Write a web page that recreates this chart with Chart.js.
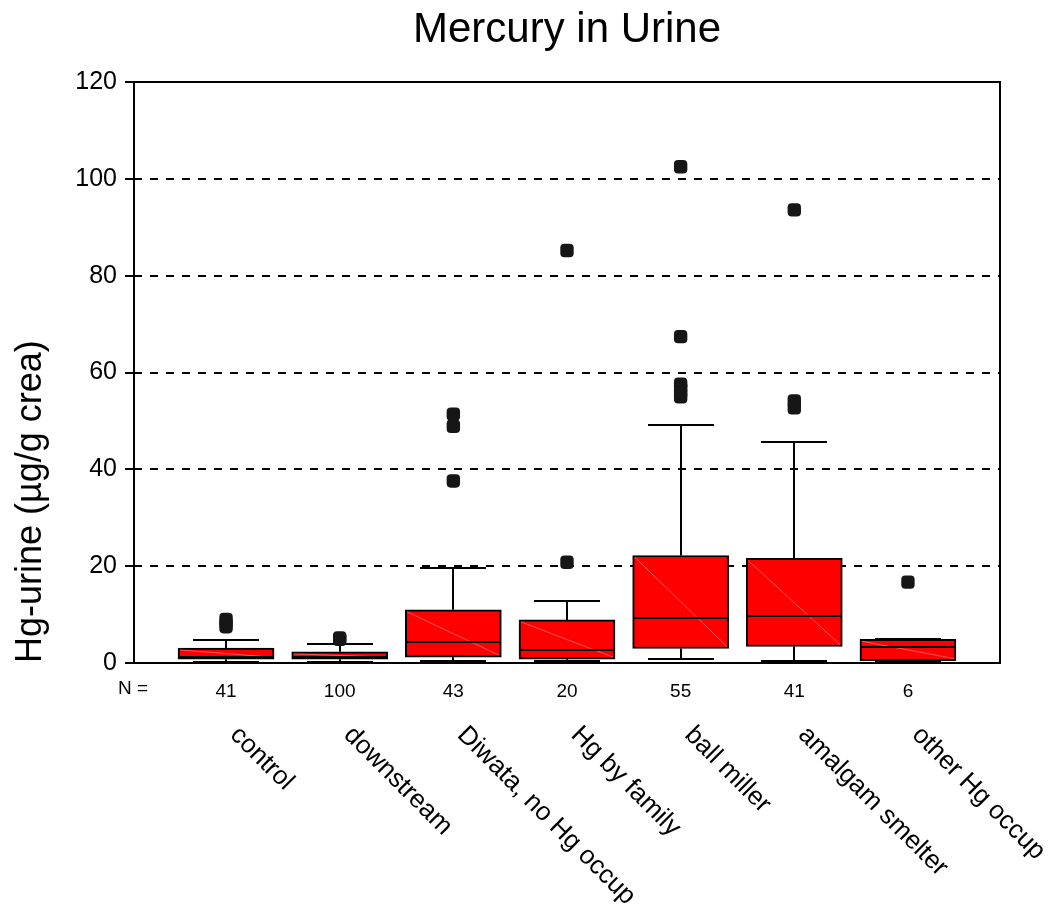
<!DOCTYPE html>
<html><head><meta charset="utf-8">
<script src="https://cdn.jsdelivr.net/npm/chart.js@4.4.0/dist/chart.umd.min.js"></script>
<style>html,body{margin:0;padding:0;background:#fff;}#wrap{width:1060px;height:919px;}</style>
</head><body><div id="wrap"><canvas id="c" width="1060" height="919"></canvas></div>
<script>
// ---- data ----
const chartTitle = 'Mercury in Urine';
const yTitle = 'Hg-urine (µg/g crea)';
const categories = ['control', 'downstream', 'Diwata, no Hg occup', 'Hg by family', 'ball miller', 'amalgam smelter', 'other Hg occup'];
const counts = [41, 100, 43, 20, 55, 41, 6];
const whiskerLow = [0.3, 0.3, 0.5, 0.4, 0.9, 0.5, 0.5];
const q1 = [0.8, 0.8, 1.2, 0.8, 3.0, 3.4, 0.5];
const median = [1.2, 1.2, 4.4, 2.7, 9.2, 9.7, 3.4];
const q3 = [3.1, 2.3, 11.0, 8.9, 22.2, 21.6, 4.9];
const whiskerHigh = [4.7, 3.9, 19.6, 12.8, 49.2, 45.7, 4.9];
const outliers = [
  [7.5, 8.2, 9.0],
  [4.9, 5.2],
  [51.4, 48.9, 37.6],
  [85.2, 20.8],
  [102.5, 67.4, 57.6, 56.8, 55.8, 55.0],
  [93.6, 54.1, 52.7],
  [16.7]
];
const yTicks = [0, 20, 40, 60, 80, 100, 120];

const FONT = "'Liberation Sans', Arial, Helvetica, sans-serif";

const boxData = categories.map((c, i) => ({x: i, y: [q1[i], q3[i]]}));
const outlierPoints = [];
outliers.forEach((arr, i) => arr.forEach(v => outlierPoints.push({x: i, y: v})));

function seg(ctx, x1, y1, x2, y2) { ctx.beginPath(); ctx.moveTo(x1, y1); ctx.lineTo(x2, y2); ctx.stroke(); }

const boxPlugin = {
  id: 'boxExtras',
  afterDatasetDraw(chart, args) {
    if (args.index !== 0) return;
    const {ctx, scales: {x, y}} = chart;
    const meta = chart.getDatasetMeta(0);
    ctx.save();
    meta.data.forEach((bar, i) => {
      const {width} = bar.getProps(['width'], true);
      const cx = Math.round(x.getPixelForValue(i));
      const half = width / 2;
      const capHalf = Math.round(half * 0.69);
      const yt = y.getPixelForValue(q3[i]), yb = y.getPixelForValue(q1[i]);
      // faint diagonal artefact in each box
      ctx.strokeStyle = 'rgba(255,170,170,0.5)'; ctx.lineWidth = 1;
      seg(ctx, cx - half + 2, yt + 2, cx + half - 2, yb - 2);
      ctx.strokeStyle = '#000'; ctx.lineWidth = 2; ctx.lineCap = 'butt';
      const ym = Math.round(y.getPixelForValue(median[i]));
      seg(ctx, cx - half, ym, cx + half, ym);
      const yh = Math.round(y.getPixelForValue(whiskerHigh[i]));
      const yl = Math.round(y.getPixelForValue(whiskerLow[i]));
      if (yh < yt) { seg(ctx, cx, yt, cx, yh); }
      seg(ctx, cx - capHalf, yh, cx + capHalf, yh);
      if (yl > yb) { seg(ctx, cx, yb, cx, yl); }
      seg(ctx, cx - capHalf, yl, cx + capHalf, yl);
    });
    ctx.restore();
  },
  afterDatasetsDraw(chart) {
    const {ctx, chartArea: a} = chart;
    ctx.save();
    ctx.strokeStyle = '#000'; ctx.lineWidth = 2;
    ctx.strokeRect(Math.round(a.left), Math.round(a.top), Math.round(a.right - a.left), Math.round(a.bottom - a.top));
    ctx.restore();
  },
  afterDraw(chart) {
    const {ctx, chartArea: a, scales: {x}} = chart;
    ctx.save();
    ctx.fillStyle = '#000';
    // title
    ctx.font = '42px ' + FONT;
    ctx.textAlign = 'center'; ctx.textBaseline = 'alphabetic';
    ctx.fillText(chartTitle, (a.left + a.right) / 2, 42);
    // N =
    ctx.font = '19px ' + FONT;
    ctx.textAlign = 'center'; ctx.textBaseline = 'middle';
    ctx.fillText('N =', 133, 689);
    // rotated category labels
    ctx.font = '26px ' + FONT;
    ctx.textAlign = 'left'; ctx.textBaseline = 'alphabetic';
    categories.forEach((c, i) => {
      const cx = x.getPixelForValue(i);
      ctx.save();
      ctx.translate(cx + 3, 736);
      ctx.rotate(Math.PI / 4);
      ctx.fillText(c, 0, 0);
      ctx.restore();
    });
    ctx.restore();
  }
};

new Chart(document.getElementById('c'), {
  type: 'bar',
  data: {
    datasets: [
      {type: 'bar', data: boxData, backgroundColor: '#ff0000', borderColor: '#000', borderWidth: 2,
       borderSkipped: false, barThickness: 96, order: 2},
      {type: 'scatter', data: outlierPoints, pointStyle: 'rectRounded', pointRadius: 7.8, pointHoverRadius: 7.8,
       backgroundColor: '#161616', borderColor: '#161616', borderWidth: 0, order: 1}
    ]
  },
  options: {
    responsive: false, animation: false, events: [],
    layout: {padding: {top: 82, right: 60, bottom: 0, left: 0}},
    plugins: {legend: {display: false}, tooltip: {enabled: false}, title: {display: false}},
    scales: {
      x: {
        type: 'linear', min: -0.81, max: 6.81, offset: false,
        grid: {display: false}, border: {display: false},
        afterBuildTicks: s => { s.ticks = categories.map((c, i) => ({value: i})); },
        ticks: {autoSkip: false, maxRotation: 0, minRotation: 0, padding: 9, color: '#000',
                font: {family: FONT, size: 19}, callback: v => (counts[v] !== undefined ? String(counts[v]) : '')},
        afterFit: s => { s.height = 256; }
      },
      y: {
        min: 0, max: 120,
        afterBuildTicks: s => { s.ticks = yTicks.map(v => ({value: v})); },
        ticks: {padding: 8, color: '#000', font: {family: FONT, size: 25}},
        grid: {
          color: c => (c.tick && (c.tick.value === 0 || c.tick.value === 120)) ? 'rgba(0,0,0,0)' : '#000',
          lineWidth: 2, tickLength: 9, tickColor: '#000', tickWidth: 2, tickBorderDash: []
        },
        border: {display: false, dash: [8, 8]},
        title: {display: true, text: yTitle, align: 'start', color: '#000',
                font: {family: FONT, size: 36}, padding: {top: 9, bottom: 0}},
        afterFit: s => { s.width = 134; }
      }
    }
  },
  plugins: [boxPlugin]
});
</script>
</body></html>
